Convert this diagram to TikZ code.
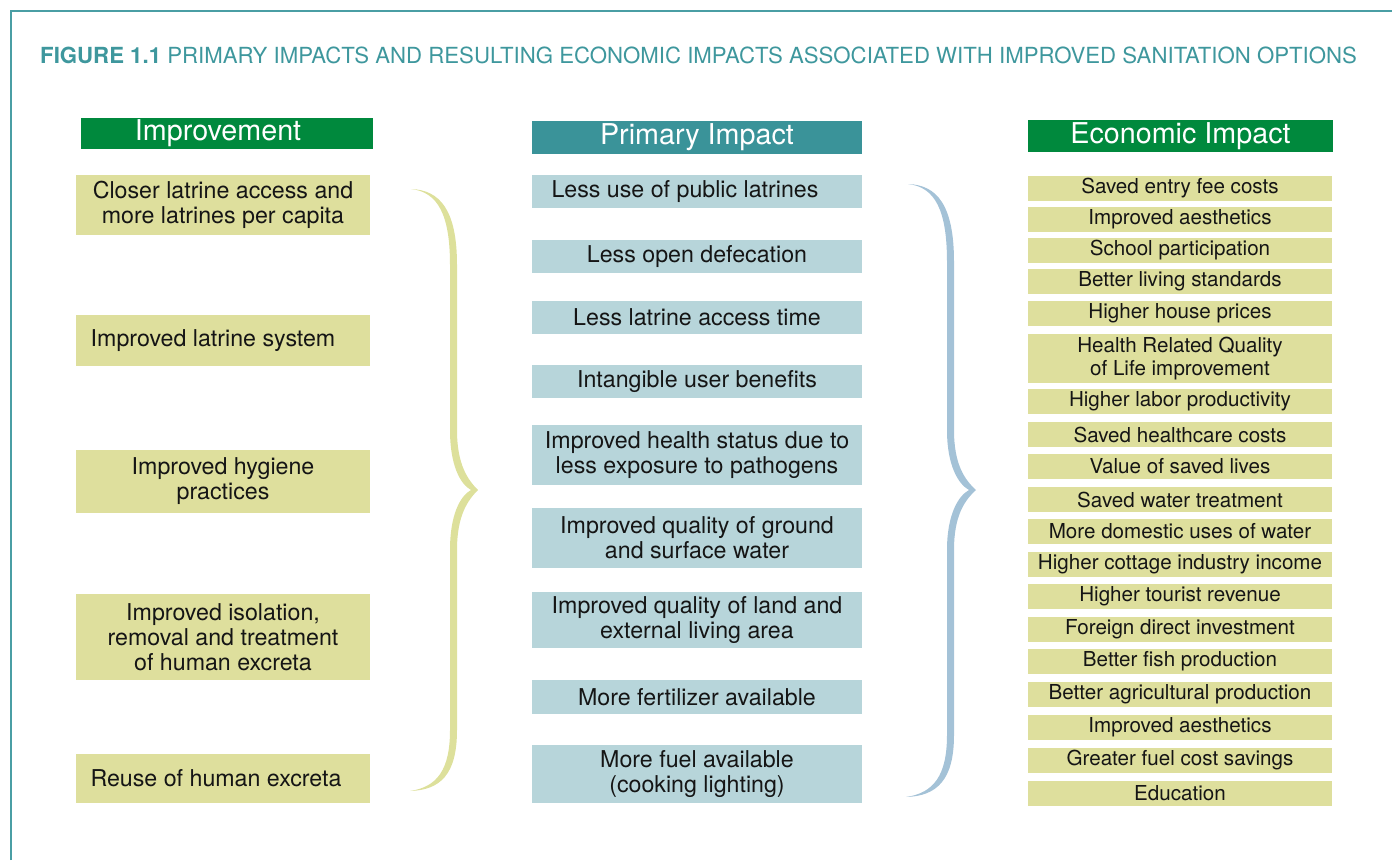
\documentclass[tikz,border=0pt]{standalone}
\usepackage{fontspec}
\setmainfont{TeX Gyre Heros}
\definecolor{frameteal}{HTML}{4A9EA4}
\definecolor{titleteal}{HTML}{3E979D}
\definecolor{hdrgreen}{HTML}{00893D}
\definecolor{hdrteal}{HTML}{3A9399}
\definecolor{khaki}{HTML}{DEDF9D}
\definecolor{paleblue}{HTML}{B7D5DA}
\definecolor{lbrace}{HTML}{DDE09B}
\definecolor{rbrace}{HTML}{A4C2D7}
\definecolor{ink}{HTML}{151515}
\tikzset{
  hdr/.style={inner sep=0pt, text=white, font=\fontsize{28.7}{30}\selectfont},
  lbox/.style={fill=khaki, inner sep=0pt, minimum width=294pt, text=ink, align=center, font=\fontsize{23.2}{25}\selectfont},
  mbox/.style={fill=paleblue, inner sep=0pt, minimum width=330pt, text=ink, align=center, font=\fontsize{23.2}{25}\selectfont},
  rbox/.style={fill=khaki, inner sep=0pt, minimum width=304pt, minimum height=25pt, text=ink, align=center, font=\fontsize{20.6}{23}\selectfont},
}
\begin{document}
\begin{tikzpicture}[x=1pt,y=-1pt]
\useasboundingbox (0,0) rectangle (1392,860);
% frame
\draw[frameteal, line width=2.6pt] (11,860) -- (11,11) -- (1392,11);
% title
\node[anchor=base west, inner sep=0pt, text=titleteal, font=\fontsize{22.2}{24}\selectfont] (title) at (40,63)
  {\textbf{FIGURE 1.1} PRIMARY IMPACTS AND RESULTING ECONOMIC IMPACTS ASSOCIATED WITH IMPROVED SANITATION OPTIONS};
% headers
\node[hdr, fill=hdrgreen, minimum width=292pt, minimum height=31pt] (h1) at (227,133.5) {\hspace*{-18pt}Improvement};
\node[hdr, fill=hdrteal, minimum width=330pt, minimum height=33pt] (h2) at (697,137.5) {Primary Impact};
\node[hdr, fill=hdrgreen, minimum width=305pt, minimum height=32pt] (h3) at (1180.5,136) {Economic Impact};
% left column
\node[lbox, minimum height=60pt] (l1) at (223,205) {Closer latrine access and\\more latrines per capita};
\node[lbox, minimum height=51pt] (l2) at (223,340.5) {\hspace*{-20pt}Improved latrine system};
\node[lbox, minimum height=63pt] (l3) at (223,481.5) {Improved hygiene\\practices};
\node[lbox, minimum height=86pt] (l4) at (223,637) {Improved isolation,\\removal and treatment\\of human excreta};
\node[lbox, minimum height=49pt] (l5) at (223,778.5) {\hspace*{-14pt}Reuse of human excreta};
% middle column
\node[mbox, minimum height=33pt] (m1) at (697,191.5) {\hspace*{-24pt}Less use of public latrines};
\node[mbox, minimum height=33pt] (m2) at (697,256.5) {Less open defecation};
\node[mbox, minimum height=33pt] (m3) at (697,317.5) {Less latrine access time};
\node[mbox, minimum height=33pt] (m4) at (697,381.5) {Intangible user benefits};
\node[mbox, minimum height=60pt] (m5) at (697,455) {Improved health status due to\\less exposure to pathogens};
\node[mbox, minimum height=60pt] (m6) at (697,538) {Improved quality of ground\\and surface water};
\node[mbox, minimum height=56pt] (m7) at (697,620) {Improved quality of land and\\external living area};
\node[mbox, minimum height=34pt] (m8) at (697,697) {More fertilizer available};
\node[mbox, minimum height=58pt] (m9) at (697,774) {More fuel available\\(cooking lighting)};
% right column
\node[rbox] (r1) at (1180,188.5) {Saved entry fee costs};
\node[rbox] (r2) at (1180,219.5) {Improved aesthetics};
\node[rbox] (r3) at (1180,250.5) {School participation};
\node[rbox] (r4) at (1180,281.5) {Better living standards};
\node[rbox] (r5) at (1180,313.5) {Higher house prices};
\node[rbox, minimum height=49pt] (r6) at (1180,358.5) {Health Related Quality\\of Life improvement};
\node[rbox] (r7) at (1180,401.5) {Higher labor productivity};
\node[rbox] (r8) at (1180,434.5) {Saved healthcare costs};
\node[rbox] (r9) at (1180,466.5) {Value of saved lives};
\node[rbox] (r10) at (1180,499.5) {Saved water treatment};
\node[rbox] (r11) at (1180,531.5) {More domestic uses of water};
\node[rbox] (r12) at (1180,564.5) {Higher cottage industry income};
\node[rbox] (r13) at (1180,596.5) {Higher tourist revenue};
\node[rbox] (r14) at (1180,629.5) {Foreign direct investment};
\node[rbox] (r15) at (1180,661.5) {Better fish production};
\node[rbox] (r16) at (1180,694.5) {Better agricultural production};
\node[rbox] (r17) at (1180,727.5) {Improved aesthetics};
\node[rbox] (r18) at (1180,760.5) {Greater fuel cost savings};
\node[rbox] (r19) at (1180,793.5) {Education};
% left brace
\fill[lbrace] (411,189) .. controls (440,190) and (457,210) .. (457,265) -- (457,430)
  .. controls (457,465) and (468,480) .. (478,490)
  .. controls (468,500) and (457,515) .. (457,550) -- (457,730)
  .. controls (457,775) and (440,790) .. (410,791)
  .. controls (437,787) and (450,770) .. (450,730) -- (450,550)
  .. controls (450,515) and (460,496) .. (471,490)
  .. controls (460,484) and (450,465) .. (450,430) -- (450,265)
  .. controls (450,215) and (438,192) .. (411,189) -- cycle;
% right brace
\fill[rbrace] (908,184) .. controls (937,185) and (954,205) .. (954,262) -- (954,430)
  .. controls (954,465) and (965,480) .. (976,490)
  .. controls (965,500) and (954,515) .. (954,550) -- (954,735)
  .. controls (954,780) and (937,796) .. (906,797)
  .. controls (934,793) and (947,775) .. (947,735) -- (947,550)
  .. controls (947,515) and (958,496) .. (969,490)
  .. controls (958,484) and (947,465) .. (947,430) -- (947,262)
  .. controls (947,210) and (935,187) .. (908,184) -- cycle;
\end{tikzpicture}
\end{document}
